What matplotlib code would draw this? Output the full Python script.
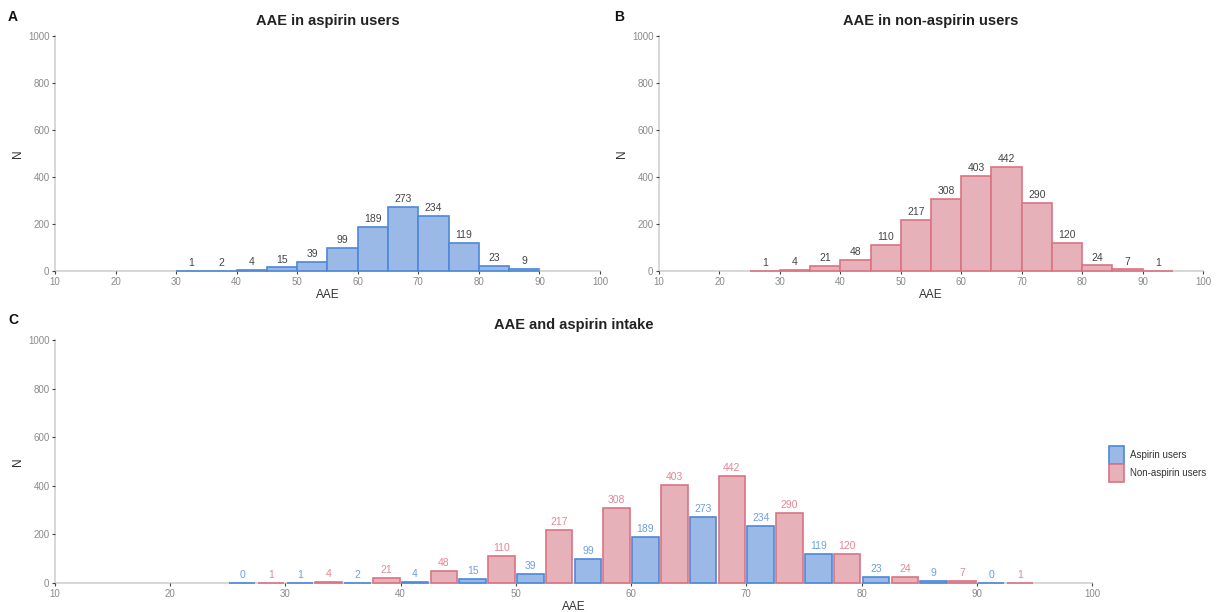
import matplotlib
matplotlib.use("Agg")
import matplotlib.pyplot as plt
import numpy as np
from matplotlib.patches import Patch

plt.rcParams['font.family'] = ['Liberation Sans', 'DejaVu Sans']

# Data
asp_edges = [30, 35, 40, 45, 50, 55, 60, 65, 70, 75, 80, 85, 90]
asp_counts = [1, 2, 4, 15, 39, 99, 189, 273, 234, 119, 23, 9]
non_edges = [25, 30, 35, 40, 45, 50, 55, 60, 65, 70, 75, 80, 85, 90, 95]
non_counts = [1, 4, 21, 48, 110, 217, 308, 403, 442, 290, 120, 24, 7, 1]
comb_bins = [25, 30, 35, 40, 45, 50, 55, 60, 65, 70, 75, 80, 85, 90]
comb_asp = [0, 1, 2, 4, 15, 39, 99, 189, 273, 234, 119, 23, 9, 0]
comb_non = [1, 4, 21, 48, 110, 217, 308, 403, 442, 290, 120, 24, 7, 1]
xticks = [10, 20, 30, 40, 50, 60, 70, 80, 90, 100]
yticks = [0, 200, 400, 600, 800, 1000]

BLUE_FILL = '#9ab9e6'
BLUE_EDGE = '#4d88d9'
PINK_FILL = '#e6b1b8'
PINK_EDGE = '#db7383'
BLUE_TXT = '#6f9fe0'
PINK_TXT = '#e38793'
AXIS_C = '#d4d4d4'
TICK_C = '#8a8a8a'

W, H = 1219, 612
fig = plt.figure(figsize=(W / 100, H / 100), dpi=100)


def ax_rect(x0, x1, y_top, y_bot):
    return [x0 / W, 1 - y_bot / H, (x1 - x0) / W, (y_bot - y_top) / H]


def style(ax, title, letter, letter_x, letter_y):
    ax.set_xlim(10, 100)
    ax.set_ylim(0, 1000)
    ax.set_xticks(xticks)
    ax.set_yticks(yticks)
    for s in ['top', 'right']:
        ax.spines[s].set_visible(False)
    for s in ['left', 'bottom']:
        ax.spines[s].set_color(AXIS_C)
        ax.spines[s].set_linewidth(1.3)
        ax.spines[s].set_zorder(1)
    ax.tick_params(axis='both', colors='#444444', labelcolor=TICK_C,
                   labelsize=7, length=2.5, width=0.8, pad=1.5)
    ax.set_xlabel('AAE', fontsize=8.5, color='#333333', labelpad=2)
    ax.set_ylabel('N', fontsize=8.5, color='#333333', labelpad=3)
    ax.set_title(title, fontsize=10.5, fontweight='bold', color='#222222', pad=8)
    fig.text(letter_x / W, 1 - letter_y / H, letter, fontsize=10,
             fontweight='bold', color='#111111', va='center', ha='left')


# Panel A
axA = fig.add_axes(ax_rect(55, 600, 36, 271))
widthsA = np.diff(asp_edges)
axA.bar(asp_edges[:-1], asp_counts, width=widthsA, align='edge',
        color=BLUE_FILL, edgecolor=BLUE_EDGE, linewidth=1.2, clip_on=False,
        zorder=3)
for x, w, c in zip(asp_edges[:-1], widthsA, asp_counts):
    axA.text(x + w / 2, c + 12, str(c), ha='center', va='bottom',
             fontsize=7.5, color='#444444')
style(axA, 'AAE in aspirin users', 'A', 8, 17)

# Panel B
axB = fig.add_axes(ax_rect(659, 1203, 36, 271))
widthsB = np.diff(non_edges)
axB.bar(non_edges[:-1], non_counts, width=widthsB, align='edge',
        color=PINK_FILL, edgecolor=PINK_EDGE, linewidth=1.2, clip_on=False,
        zorder=3)
for x, w, c in zip(non_edges[:-1], widthsB, non_counts):
    axB.text(x + w / 2, c + 12, str(c), ha='center', va='bottom',
             fontsize=7.5, color='#444444')
style(axB, 'AAE in non-aspirin users', 'B', 614, 17)

# Panel C
axC = fig.add_axes(ax_rect(55, 1092, 340, 583))
half = 2.5
bw = half * 0.92
xa = np.array(comb_bins) + half / 2
xn = np.array(comb_bins) + 1.5 * half
axC.bar(xa, comb_asp, width=bw, color=BLUE_FILL, edgecolor=BLUE_EDGE,
        linewidth=1.2, label='Aspirin users', clip_on=False, zorder=3)
axC.bar(xn, comb_non, width=bw, color=PINK_FILL, edgecolor=PINK_EDGE,
        linewidth=1.2, label='Non-aspirin users', clip_on=False, zorder=3)
for x, c in zip(xa, comb_asp):
    axC.text(x, c + 12, str(c), ha='center', va='bottom', fontsize=7.5,
             color=BLUE_TXT)
for x, c in zip(xn, comb_non):
    axC.text(x, c + 12, str(c), ha='center', va='bottom', fontsize=7.5,
             color=PINK_TXT)
style(axC, 'AAE and aspirin intake', 'C', 8, 320)

handles = [Patch(facecolor=BLUE_FILL, edgecolor=BLUE_EDGE, linewidth=1.2,
                 label='Aspirin users'),
           Patch(facecolor=PINK_FILL, edgecolor=PINK_EDGE, linewidth=1.2,
                 label='Non-aspirin users')]
fig.legend(handles=handles, loc='center left',
           bbox_to_anchor=(1102 / W, 1 - 464 / H), frameon=False,
           fontsize=7, handlelength=1.6, handleheight=2.4,
           handletextpad=0.6, labelspacing=0.0, borderpad=0.2,
           labelcolor='#333333')

fig.savefig('out.png', dpi=100, facecolor='white')
